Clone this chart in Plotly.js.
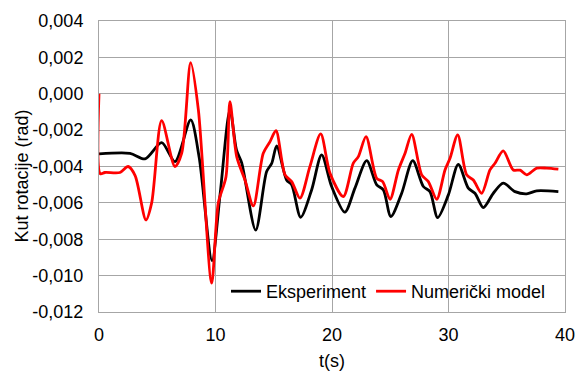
<!DOCTYPE html>
<html><head><meta charset="utf-8">
<script src="https://cdn.plot.ly/plotly-3.0.1.min.js"></script>
<style>body{margin:0}#c{width:575px;height:372px}</style>
</head><body><div id="c"></div>
<script>
const expT = [0,2.66,3.95,5.38,6.52,7.87,8.6,9.7,10.4,11.24,11.8,12.25,13.45,14.39,14.83,15.25,16.1,16.54,17.31,18.25,19.11,19.97,21.1,21.97,22.98,23.84,24.41,25.05,25.98,26.93,27.84,28.41,29.07,29.99,30.84,31.7,32.27,32.99,33.85,34.7,35.71,36.71,37.57,39.43];
const expV = [-0.00331,-0.00328,-0.00358,-0.00269,-0.00373,-0.00144,-0.0035,-0.00917,-0.0055,-0.00089,-0.00309,-0.0038,-0.0075,-0.00428,-0.00382,-0.00287,-0.00474,-0.00501,-0.00679,-0.00529,-0.00336,-0.0051,-0.00651,-0.00519,-0.00368,-0.00501,-0.00529,-0.00675,-0.00547,-0.00368,-0.0051,-0.00538,-0.00681,-0.00556,-0.00388,-0.00519,-0.00547,-0.00626,-0.00547,-0.00492,-0.00538,-0.0055,-0.00534,-0.00538];
const numT = [0,0.12,0.5,1.8,2.5,3.1,4.03,4.52,5.38,6.52,7.1,7.87,8.53,9.67,10.24,10.9,11.24,11.82,12.53,13.25,14.1,14.68,15.19,15.97,16.54,17.25,18.1,19.03,19.83,20.97,21.83,22.26,22.92,23.84,24.35,24.98,25.7,26.27,26.84,27.7,28.27,28.99,29.7,30.13,30.79,31.56,32.13,32.85,33.56,33.99,34.7,35.56,36.14,36.71,37.57,38.43,39.43];
const numV = [0.0,-0.0044,-0.00433,-0.00433,-0.0040,-0.0045,-0.00694,-0.006,-0.00148,-0.0040,-0.00327,0.00171,-0.00089,-0.01041,-0.006,-0.00456,-0.00043,-0.00346,-0.00474,-0.00617,-0.00327,-0.00263,-0.00203,-0.00446,-0.00483,-0.00574,-0.00401,-0.00221,-0.00437,-0.00565,-0.00382,-0.00346,-0.00236,-0.00465,-0.00483,-0.0058,-0.00419,-0.00327,-0.00223,-0.00446,-0.00483,-0.0058,-0.00419,-0.00355,-0.00226,-0.00446,-0.00474,-0.00547,-0.00419,-0.00382,-0.00314,-0.00419,-0.0042,-0.00446,-0.00409,-0.00409,-0.00415];
const yTicks = [0.004,0.002,0,-0.002,-0.004,-0.006,-0.008,-0.010,-0.012];
const yLabels = ['0,004','0,002','0,000','-0,002','-0,004','-0,006','-0,008','-0,010','-0,012'];
const xTicks = [0,10,20,30,40];

const fam = 'Liberation Sans, Arial, sans-serif';
Plotly.newPlot('c', [
 {x:expT, y:expV, mode:'lines', name:'Eksperiment', line:{color:'#000', width:2.8, shape:'spline', smoothing:0.8}},
 {x:numT, y:numV, mode:'lines', name:'Numerički model', line:{color:'#ff0000', width:2.8, shape:'spline', smoothing:0.8}}
], {
 width:575, height:372,
 margin:{l:99, r:10, t:21, b:59.5},
 paper_bgcolor:'#fff', plot_bgcolor:'#fff',
 font:{family:fam, size:18, color:'#000'},
 showlegend:true,
 legend:{orientation:'h', x:(226-99)/466, xanchor:'left', y:2/291.5, yanchor:'bottom', bgcolor:'rgba(0,0,0,0)', font:{family:fam, size:18, color:'#000'}, itemwidth:30, tracegroupgap:0},
 xaxis:{range:[0,40], tickvals:xTicks, ticktext:xTicks.map(String), showgrid:true, gridcolor:'#a6a6a6', gridwidth:1, zeroline:false, showline:true, linecolor:'#a6a6a6', mirror:true, ticks:'', tickfont:{family:fam, size:18}, ticklabelstandoff:6, ticklabeloverflow:'allow'},
 yaxis:{range:[-0.012,0.004], tickvals:yTicks, ticktext:yLabels, showgrid:true, gridcolor:'#a6a6a6', gridwidth:1, zeroline:false, showline:true, linecolor:'#a6a6a6', mirror:true, ticks:'', tickfont:{family:fam, size:18}, ticklabelstandoff:11, ticklabeloverflow:'allow'},
 annotations:[
  {text:'t(s)', xref:'paper', yref:'paper', x:0.5, y:(312.5-362)/291.5, xanchor:'center', yanchor:'middle', showarrow:false, font:{family:fam, size:18, color:'#000'}},
  {text:'Kut rotacije (rad)', xref:'paper', yref:'paper', x:(22-99)/466, y:(312.5-176.7)/291.5, xanchor:'center', yanchor:'middle', textangle:-90, showarrow:false, font:{family:fam, size:18, color:'#000'}}
 ]
}, {displayModeBar:false, staticPlot:true});
</script></body></html>
